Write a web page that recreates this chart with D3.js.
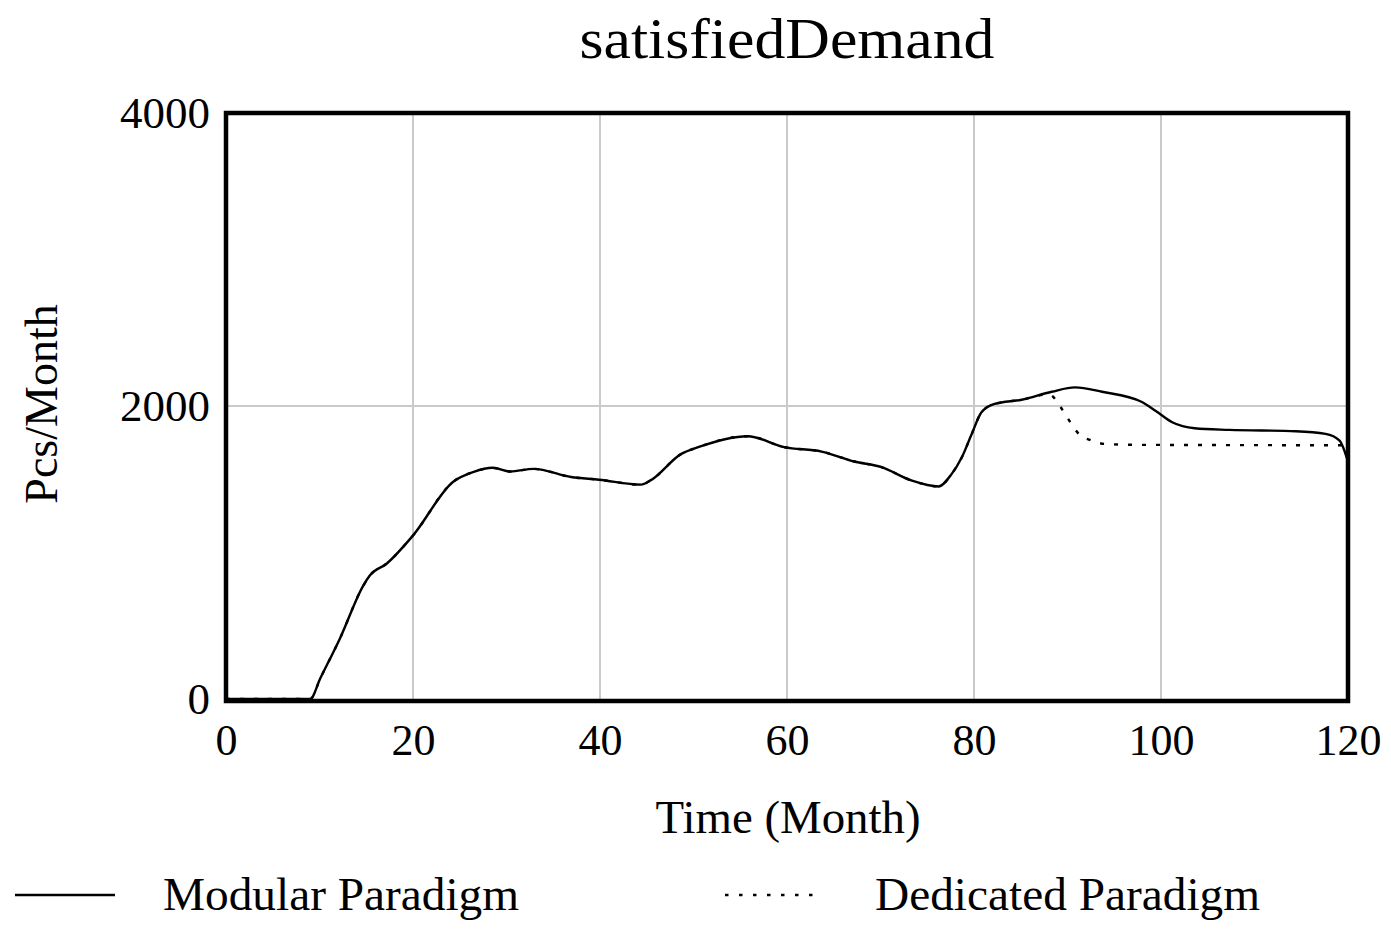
<!DOCTYPE html>
<html>
<head>
<meta charset="utf-8">
<script src="https://cdn.jsdelivr.net/npm/d3@7"></script>
<style>
  html, body { margin: 0; padding: 0; background: #fff; }
  svg { display: block; }
  text { font-family: "Liberation Serif", "Times New Roman", serif; fill: #000; }
</style>
</head>
<body>
<script>
// ---- data ----
const chartTitle = "satisfiedDemand";
const xLabel = "Time (Month)";
const yLabel = "Pcs/Month";
const xTicks = [0, 20, 40, 60, 80, 100, 120];
const yTicks = [0, 2000, 4000];
const seriesNames = ["Modular Paradigm", "Dedicated Paradigm"];

const modularTime  = [0, 9, 10.1, 12.2, 14.7, 15.4, 17.2, 20, 24.3, 26.5, 28.5, 30.4, 32.9, 36.9, 39.9, 44.4, 45.4, 48.7, 50.5, 55.8, 59.7, 63.7, 67.2, 70.1, 73.3, 76.2, 77.6, 78.7, 79.7, 80.8, 82.2, 85.1, 88.3, 90.8, 93.7, 97.9, 99.4, 101.2, 103.6, 107.3, 114.4, 117.6, 119.1, 120];
const modularValue = [0, 0, 143, 415, 776, 844, 925, 1116, 1483, 1551, 1578, 1553, 1571, 1515, 1497, 1463, 1492, 1673, 1719, 1794, 1719, 1689, 1621, 1583, 1492, 1451, 1535, 1650, 1800, 1957, 2014, 2043, 2097, 2127, 2097, 2029, 1968, 1889, 1848, 1837, 1828, 1810, 1764, 1620];

const dedicatedTime  = [0, 9, 10.1, 12.2, 14.7, 15.4, 17.2, 20, 24.3, 26.5, 28.5, 30.4, 32.9, 36.9, 39.9, 44.4, 45.4, 48.7, 50.5, 55.8, 59.7, 63.7, 67.2, 70.1, 73.3, 76.2, 77.6, 78.7, 79.7, 80.8, 82.2, 85.1, 88.0, 89.4, 90.3, 91.2, 92.6, 94.0, 97.2, 120];
const dedicatedValue = [0, 0, 143, 415, 776, 844, 925, 1116, 1483, 1551, 1578, 1553, 1571, 1515, 1497, 1463, 1492, 1673, 1719, 1794, 1719, 1689, 1621, 1583, 1492, 1451, 1535, 1650, 1800, 1957, 2014, 2043, 2080, 1980, 1889, 1810, 1764, 1741, 1735, 1732];

// ---- layout ----
const W = 1391, H = 933;
const plot = { left: 226, right: 1348, top: 113, bottom: 701 };

const svg = d3.select("body").append("svg").attr("width", W).attr("height", H);

const x = d3.scaleLinear().domain([0, 120]).range([plot.left, plot.right]);
const y = d3.scaleLinear().domain([0, 4000]).range([plot.bottom - 2, plot.top]);

// grid
const gridG = svg.append("g");
gridG.selectAll("line.vx").data(xTicks.filter(t => t > 0 && t < 120)).join("line")
  .attr("x1", d => x(d)).attr("x2", d => x(d))
  .attr("y1", plot.top).attr("y2", plot.bottom)
  .attr("stroke", "#cacaca").attr("stroke-width", 2);
gridG.selectAll("line.hy").data(yTicks.filter(t => t > 0 && t < 4000)).join("line")
  .attr("x1", plot.left).attr("x2", plot.right)
  .attr("y1", d => y(d)).attr("y2", d => y(d))
  .attr("stroke", "#cacaca").attr("stroke-width", 2);

// frame
svg.append("rect")
  .attr("x", plot.left).attr("y", plot.top)
  .attr("width", plot.right - plot.left).attr("height", plot.bottom - plot.top)
  .attr("fill", "none").attr("stroke", "#000").attr("stroke-width", 4.5);

// axes (labels via d3 axes, domain/ticks hidden)
const xAxis = svg.append("g").attr("transform", `translate(0,${plot.bottom})`)
  .call(d3.axisBottom(x).tickValues(xTicks).tickSize(0).tickPadding(0).tickFormat(d3.format("d")));
xAxis.select(".domain").remove();
xAxis.selectAll("text").attr("font-size", 44).attr("dy", null).attr("y", 54)
  .style("font-family", '"Liberation Serif", serif');

const yAxis = svg.append("g").attr("transform", `translate(${plot.left},0)`)
  .call(d3.axisLeft(y).tickValues(yTicks).tickSize(0).tickPadding(16).tickFormat(d3.format("d")));
yAxis.select(".domain").remove();
yAxis.selectAll("text").attr("font-size", 45).attr("dy", "0.33em")
  .style("font-family", '"Liberation Serif", serif');

// lines
const line = d3.line().curve(d3.curveMonotoneX).x(d => x(d[0])).y(d => y(d[1]));
const dedicatedPts = dedicatedTime.map((t, i) => [t, dedicatedValue[i]]);
const modularPts = modularTime.map((t, i) => [t, modularValue[i]]);

svg.append("path").datum(dedicatedPts).attr("d", line)
  .attr("fill", "none").attr("stroke", "#000").attr("stroke-width", 2.4)
  .attr("stroke-dasharray", "4,10");
svg.append("path").datum(modularPts).attr("d", line)
  .attr("fill", "none").attr("stroke", "#000").attr("stroke-width", 2.4);

// title
svg.append("text").attr("x", 787).attr("y", 58).attr("text-anchor", "middle")
  .attr("font-size", 58).attr("textLength", 415).attr("lengthAdjust", "spacingAndGlyphs")
  .text(chartTitle);

// axis titles
svg.append("text").attr("x", 788).attr("y", 833).attr("text-anchor", "middle")
  .attr("font-size", 46).attr("textLength", 265).attr("lengthAdjust", "spacingAndGlyphs").text(xLabel);
svg.append("text").attr("transform", "translate(57,404) rotate(-90)")
  .attr("text-anchor", "middle").attr("font-size", 46).text(yLabel);

// legend
const legendItems = [
  { name: seriesNames[0], x1: 15, x2: 115, tx: 163, len: 356, dash: null },
  { name: seriesNames[1], x1: 725, x2: 822, tx: 875, len: 385, dash: "3.5,10.5" }
];
const lg = svg.append("g");
legendItems.forEach(it => {
  lg.append("line").attr("x1", it.x1).attr("x2", it.x2).attr("y1", 895).attr("y2", 895)
    .attr("stroke", "#000").attr("stroke-width", 2.4)
    .attr("stroke-dasharray", it.dash);
  lg.append("text").attr("x", it.tx).attr("y", 910).attr("font-size", 46)
    .attr("textLength", it.len).attr("lengthAdjust", "spacingAndGlyphs").text(it.name);
});
</script>
</body>
</html>
